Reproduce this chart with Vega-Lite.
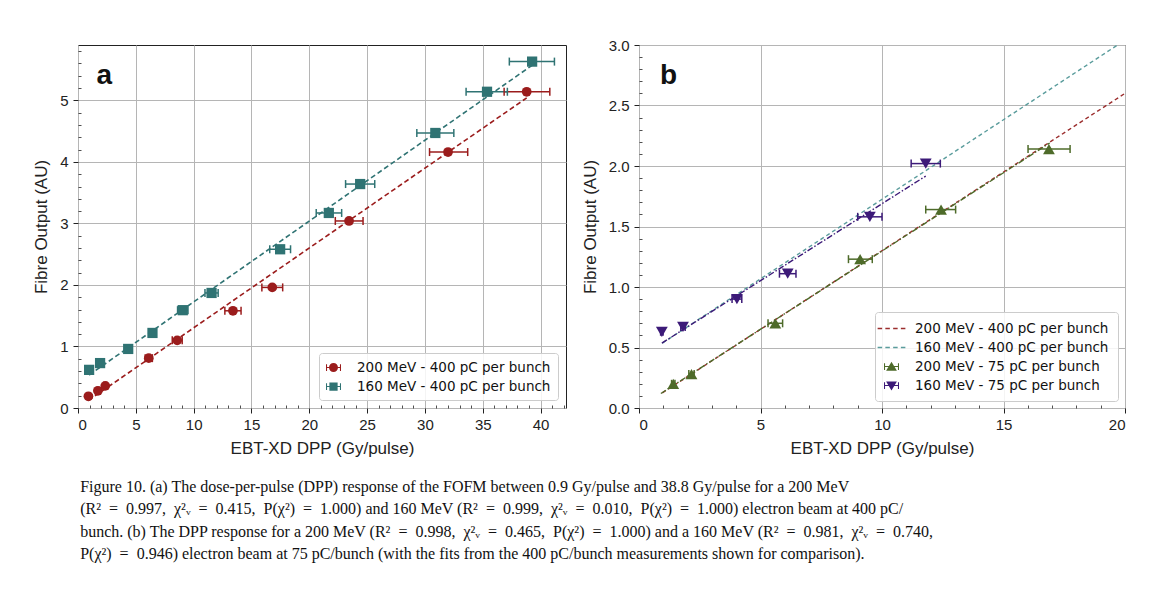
{
  "$schema": "https://vega.github.io/schema/vega-lite/v6.json",
  "background": "white",
  "padding": {"left": 32, "top": 37, "right": 5, "bottom": 5},
  "spacing": 13,
  "resolve": {"scale": {"color": "independent", "shape": "independent", "strokeDash": "independent"}, "legend": {"color": "independent", "shape": "independent"}},
  "title": {
    "text": [
      "Figure 10. (a) The dose-per-pulse (DPP) response of the FOFM between 0.9 Gy/pulse and 38.8 Gy/pulse for a 200 MeV",
      "(R²\u2002=\u20020.997,\u2002χ²ᵥ\u2002=\u20020.415,\u2002P(χ²)\u2002=\u20021.000) and 160 MeV (R²\u2002=\u20020.999,\u2002χ²ᵥ\u2002=\u20020.010,\u2002P(χ²)\u2002=\u20021.000) electron beam at 400 pC/",
      "bunch. (b) The DPP response for a 200 MeV (R²\u2002=\u20020.998,\u2002χ²ᵥ\u2002=\u20020.465,\u2002P(χ²)\u2002=\u20021.000) and a 160 MeV (R²\u2002=\u20020.981,\u2002χ²ᵥ\u2002=\u20020.740,",
      "P(χ²)\u2002=\u20020.946) electron beam at 75 pC/bunch (with the fits from the 400 pC/bunch measurements shown for comparison)."
    ],
    "orient": "bottom",
    "anchor": "start",
    "frame": "bounds",
    "dx": 48,
    "offset": 22,
    "font": "Liberation Serif",
    "fontSize": 16,
    "fontWeight": "normal",
    "lineHeight": 22.5,
    "color": "#111111"
  },
  "datasets": {
    "pa": [
      {"series": "200 MeV - 400 pC per bunch", "x": 0.9, "y": 0.19, "xlo": 0.85, "xhi": 0.95},
      {"series": "200 MeV - 400 pC per bunch", "x": 1.72, "y": 0.28, "xlo": 1.63, "xhi": 1.81},
      {"series": "200 MeV - 400 pC per bunch", "x": 2.36, "y": 0.36, "xlo": 2.24, "xhi": 2.48},
      {"series": "200 MeV - 400 pC per bunch", "x": 6.12, "y": 0.81, "xlo": 5.81, "xhi": 6.43},
      {"series": "200 MeV - 400 pC per bunch", "x": 8.58, "y": 1.1, "xlo": 8.15, "xhi": 9.01},
      {"series": "200 MeV - 400 pC per bunch", "x": 13.4, "y": 1.58, "xlo": 12.7, "xhi": 14.1},
      {"series": "200 MeV - 400 pC per bunch", "x": 16.8, "y": 1.96, "xlo": 15.9, "xhi": 17.7},
      {"series": "200 MeV - 400 pC per bunch", "x": 23.44, "y": 3.04, "xlo": 22.25, "xhi": 24.65},
      {"series": "200 MeV - 400 pC per bunch", "x": 32.0, "y": 4.16, "xlo": 30.4, "xhi": 33.7},
      {"series": "200 MeV - 400 pC per bunch", "x": 38.8, "y": 5.14, "xlo": 36.85, "xhi": 40.8},
      {"series": "160 MeV - 400 pC per bunch", "x": 0.96, "y": 0.62, "xlo": 0.91, "xhi": 1.01},
      {"series": "160 MeV - 400 pC per bunch", "x": 1.91, "y": 0.73, "xlo": 1.81, "xhi": 2.01},
      {"series": "160 MeV - 400 pC per bunch", "x": 4.34, "y": 0.96, "xlo": 4.12, "xhi": 4.56},
      {"series": "160 MeV - 400 pC per bunch", "x": 6.44, "y": 1.22, "xlo": 6.12, "xhi": 6.76},
      {"series": "160 MeV - 400 pC per bunch", "x": 9.06, "y": 1.59, "xlo": 8.61, "xhi": 9.51},
      {"series": "160 MeV - 400 pC per bunch", "x": 11.55, "y": 1.87, "xlo": 10.98, "xhi": 12.12},
      {"series": "160 MeV - 400 pC per bunch", "x": 17.48, "y": 2.58, "xlo": 16.58, "xhi": 18.38},
      {"series": "160 MeV - 400 pC per bunch", "x": 21.69, "y": 3.17, "xlo": 20.6, "xhi": 22.8},
      {"series": "160 MeV - 400 pC per bunch", "x": 24.4, "y": 3.64, "xlo": 23.14, "xhi": 25.66},
      {"series": "160 MeV - 400 pC per bunch", "x": 30.9, "y": 4.47, "xlo": 29.3, "xhi": 32.5},
      {"series": "160 MeV - 400 pC per bunch", "x": 35.37, "y": 5.14, "xlo": 33.56, "xhi": 37.13},
      {"series": "160 MeV - 400 pC per bunch", "x": 39.27, "y": 5.63, "xlo": 37.3, "xhi": 41.2}
    ],
    "fa": [
      {"series": "200 MeV - 400 pC per bunch", "x": 0.9, "y": 0.122},
      {"series": "200 MeV - 400 pC per bunch", "x": 38.8, "y": 5.04},
      {"series": "160 MeV - 400 pC per bunch", "x": 0.96, "y": 0.536},
      {"series": "160 MeV - 400 pC per bunch", "x": 39.27, "y": 5.57}
    ],
    "pb": [
      {"series": "200 MeV - 75 pC per bunch", "x": 1.41, "y": 0.2, "xlo": 1.34, "xhi": 1.48},
      {"series": "200 MeV - 75 pC per bunch", "x": 2.16, "y": 0.28, "xlo": 2.05, "xhi": 2.27},
      {"series": "200 MeV - 75 pC per bunch", "x": 5.61, "y": 0.7, "xlo": 5.31, "xhi": 5.91},
      {"series": "200 MeV - 75 pC per bunch", "x": 9.1, "y": 1.23, "xlo": 8.62, "xhi": 9.6},
      {"series": "200 MeV - 75 pC per bunch", "x": 12.43, "y": 1.64, "xlo": 11.8, "xhi": 13.03},
      {"series": "200 MeV - 75 pC per bunch", "x": 16.87, "y": 2.14, "xlo": 16.01, "xhi": 17.74},
      {"series": "160 MeV - 75 pC per bunch", "x": 0.94, "y": 0.63, "xlo": 0.89, "xhi": 0.99},
      {"series": "160 MeV - 75 pC per bunch", "x": 1.81, "y": 0.67, "xlo": 1.72, "xhi": 1.9},
      {"series": "160 MeV - 75 pC per bunch", "x": 4.03, "y": 0.9, "xlo": 3.83, "xhi": 4.23},
      {"series": "160 MeV - 75 pC per bunch", "x": 6.12, "y": 1.11, "xlo": 5.78, "xhi": 6.46},
      {"series": "160 MeV - 75 pC per bunch", "x": 9.5, "y": 1.58, "xlo": 9.0, "xhi": 10.0},
      {"series": "160 MeV - 75 pC per bunch", "x": 11.8, "y": 2.02, "xlo": 11.2, "xhi": 12.4}
    ],
    "fb": [
      {"series": "200 MeV - 400 pC per bunch", "style": "dashed", "x": 0.96, "y": 0.125},
      {"series": "200 MeV - 400 pC per bunch", "style": "dashed", "x": 20, "y": 2.6},
      {"series": "160 MeV - 400 pC per bunch", "style": "dashed", "x": 0.96, "y": 0.536},
      {"series": "160 MeV - 400 pC per bunch", "style": "dashed", "x": 20, "y": 3.04},
      {"series": "200 MeV - 75 pC per bunch", "style": "dashdot", "x": 0.9, "y": 0.12},
      {"series": "200 MeV - 75 pC per bunch", "style": "dashdot", "x": 16.9, "y": 2.19},
      {"series": "160 MeV - 75 pC per bunch", "style": "dashdot", "x": 0.94, "y": 0.536},
      {"series": "160 MeV - 75 pC per bunch", "style": "dashdot", "x": 11.8, "y": 1.917}
    ]
  },
  "hconcat": [
    {
      "width": 488,
      "height": 363,
      "resolve": {"axis": {"x": "independent", "y": "independent"}},
      "layer": [
        {
          "data": {"name": "pa"},
          "transform": [{"filter": "false"}],
          "mark": {"type": "point", "filled": true, "opacity": 1},
          "encoding": {
            "x": {"field": "x", "type": "quantitative", "axis": null},
            "y": {"field": "y", "type": "quantitative", "axis": null},
            "color": {"field": "series", "type": "nominal",
                      "scale": {"domain": ["200 MeV - 400 pC per bunch", "160 MeV - 400 pC per bunch"], "range": ["#9b1c1c", "#2f7373"]},
                      "legend": {"title": null, "orient": "bottom-right", "offset": 8, "strokeColor": "#cccccc", "fillColor": "rgba(255,255,255,0.85)", "cornerRadius": 3, "padding": 7, "rowPadding": 5, "symbolSize": 225, "symbolStrokeWidth": 0, "labelFont": "DejaVu Sans", "labelFontSize": 13.5, "labelColor": "#111111", "labelOffset": 16, "labelLimit": 400}},
            "shape": {"field": "series", "type": "nominal",
                      "scale": {"domain": ["200 MeV - 400 pC per bunch", "160 MeV - 400 pC per bunch"],
                                "range": ["M-0.6,0A0.6,0.6,0,1,1,0.6,0A0.6,0.6,0,1,1,-0.6,0Z M-1,-0.07H1V0.07H-1Z M-1,-0.45H-0.86V0.45H-1Z M0.86,-0.45H1V0.45H0.86Z",
                                          "M-0.55,-0.55H0.55V0.55H-0.55Z M-1,-0.07H1V0.07H-1Z M-1,-0.45H-0.86V0.45H-1Z M0.86,-0.45H1V0.45H0.86Z"]},
                      "legend": {"title": null, "orient": "bottom-right", "offset": 8, "strokeColor": "#cccccc", "fillColor": "rgba(255,255,255,0.85)", "cornerRadius": 3, "padding": 7, "rowPadding": 5, "symbolSize": 225, "symbolStrokeWidth": 0, "labelFont": "DejaVu Sans", "labelFontSize": 13.5, "labelColor": "#111111", "labelOffset": 16, "labelLimit": 400}}
          }
        },
        {
          "data": {"name": "fa"},
          "mark": {"type": "line", "strokeDash": [5, 3], "strokeWidth": 1.6, "clip": true},
          "encoding": {
            "x": {"field": "x", "type": "quantitative", "scale": {"domain": [0, 42.2], "nice": false, "zero": false},
                  "axis": {"title": "EBT-XD DPP (Gy/pulse)", "values": [0, 5, 10, 15, 20, 25, 30, 35, 40], "format": "d", "grid": true, "labelPadding": 4, "titlePadding": 8}},
            "y": {"field": "y", "type": "quantitative", "scale": {"domain": [0, 5.9], "nice": false, "zero": false},
                  "axis": {"title": "Fibre Output (AU)", "values": [0, 1, 2, 3, 4, 5], "format": "d", "grid": true, "labelPadding": 5, "titlePadding": 9}},
            "color": {"field": "series", "type": "nominal", "legend": null}
          }
        },
        {
          "data": {"name": "pa"},
          "mark": {"type": "rule", "strokeWidth": 1.5},
          "encoding": {
            "x": {"field": "xlo", "type": "quantitative",
                  "axis": {"orient": "bottom", "title": null, "labels": false, "grid": false, "domain": false, "tickSize": -3, "tickWidth": 0.8,
                           "values": [1, 2, 3, 4, 6, 7, 8, 9, 11, 12, 13, 14, 16, 17, 18, 19, 21, 22, 23, 24, 26, 27, 28, 29, 31, 32, 33, 34, 36, 37, 38, 39, 41, 42]}},
            "x2": {"field": "xhi"},
            "y": {"field": "y", "type": "quantitative",
                  "axis": {"orient": "left", "title": null, "labels": false, "grid": false, "domain": false, "tickSize": -3, "tickWidth": 0.8,
                           "values": [0.2, 0.4, 0.6, 0.8, 1.2, 1.4, 1.6, 1.8, 2.2, 2.4, 2.6, 2.8, 3.2, 3.4, 3.6, 3.8, 4.2, 4.4, 4.6, 4.8, 5.2, 5.4, 5.6, 5.8]}},
            "color": {"field": "series", "type": "nominal", "legend": null}
          }
        },
        {
          "data": {"name": "pa"},
          "mark": {"type": "tick", "orient": "vertical", "size": 8, "thickness": 1.5, "opacity": 1},
          "encoding": {
            "x": {"field": "xlo", "type": "quantitative", "axis": null},
            "y": {"field": "y", "type": "quantitative", "axis": null},
            "color": {"field": "series", "type": "nominal", "legend": null}
          }
        },
        {
          "data": {"name": "pa"},
          "mark": {"type": "tick", "orient": "vertical", "size": 8, "thickness": 1.5, "opacity": 1},
          "encoding": {
            "x": {"field": "xhi", "type": "quantitative", "axis": null},
            "y": {"field": "y", "type": "quantitative", "axis": null},
            "color": {"field": "series", "type": "nominal", "legend": null}
          }
        },
        {
          "data": {"name": "pa"},
          "transform": [{"filter": "datum.series === '200 MeV - 400 pC per bunch'"}],
          "mark": {"type": "point", "filled": true, "shape": "circle", "size": 95, "opacity": 1},
          "encoding": {
            "x": {"field": "x", "type": "quantitative", "axis": null},
            "y": {"field": "y", "type": "quantitative", "axis": null},
            "color": {"field": "series", "type": "nominal", "legend": null}
          }
        },
        {
          "data": {"name": "pa"},
          "transform": [{"filter": "datum.series === '160 MeV - 400 pC per bunch'"}],
          "mark": {"type": "point", "filled": true, "shape": "square", "size": 105, "opacity": 1},
          "encoding": {
            "x": {"field": "x", "type": "quantitative", "axis": null},
            "y": {"field": "y", "type": "quantitative", "axis": null},
            "color": {"field": "series", "type": "nominal", "legend": null}
          }
        },
        {
          "data": {"values": [{"panel": "a"}]},
          "mark": {"type": "text", "align": "left", "baseline": "alphabetic", "font": "Liberation Sans", "fontSize": 28, "fontWeight": "bold", "color": "#111111"},
          "encoding": {
            "x": {"datum": 1.6, "type": "quantitative", "axis": null},
            "y": {"datum": 5.27, "type": "quantitative", "axis": null},
            "text": {"field": "panel"}
          }
        }
      ]
    },
    {
      "width": 486,
      "height": 363,
      "resolve": {"axis": {"x": "independent", "y": "independent"}},
      "layer": [
        {
          "data": {"name": "pb"},
          "transform": [{"filter": "false"}],
          "mark": {"type": "point", "filled": true, "opacity": 1},
          "encoding": {
            "x": {"field": "x", "type": "quantitative", "axis": null},
            "y": {"field": "y", "type": "quantitative", "axis": null},
            "color": {"field": "series", "type": "nominal",
                      "scale": {"domain": ["200 MeV - 400 pC per bunch", "160 MeV - 400 pC per bunch", "200 MeV - 75 pC per bunch", "160 MeV - 75 pC per bunch"],
                                "range": ["#9b2d2d", "#5a9c9c", "#4e6b2a", "#3c1a78"]},
                      "legend": {"title": null, "orient": "bottom-right", "offset": 7, "strokeColor": "#cccccc", "fillColor": "rgba(255,255,255,0.85)", "cornerRadius": 3, "padding": 9, "rowPadding": 5, "symbolSize": 225, "symbolStrokeWidth": 0, "labelFont": "DejaVu Sans", "labelFontSize": 13.5, "labelColor": "#111111", "labelOffset": 16, "labelLimit": 400}},
            "shape": {"field": "series", "type": "nominal",
                      "scale": {"domain": ["200 MeV - 400 pC per bunch", "160 MeV - 400 pC per bunch", "200 MeV - 75 pC per bunch", "160 MeV - 75 pC per bunch"],
                                "range": ["M-1.85,-0.09H-1.25V0.09H-1.85Z M-0.82,-0.09H-0.22V0.09H-0.82Z M0.22,-0.09H0.82V0.09H0.22Z M1.25,-0.09H1.85V0.09H1.25Z",
                                          "M-1.85,-0.09H-1.25V0.09H-1.85Z M-0.82,-0.09H-0.22V0.09H-0.82Z M0.22,-0.09H0.82V0.09H0.22Z M1.25,-0.09H1.85V0.09H1.25Z",
                                          "M0,-0.65L0.72,0.55H-0.72Z M-1,-0.07H1V0.07H-1Z M-1,-0.45H-0.86V0.45H-1Z M0.86,-0.45H1V0.45H0.86Z",
                                          "M-0.72,-0.55H0.72L0,0.65Z M-1,-0.07H1V0.07H-1Z M-1,-0.45H-0.86V0.45H-1Z M0.86,-0.45H1V0.45H0.86Z"]},
                      "legend": {"title": null, "orient": "bottom-right", "offset": 7, "strokeColor": "#cccccc", "fillColor": "rgba(255,255,255,0.85)", "cornerRadius": 3, "padding": 9, "rowPadding": 5, "symbolSize": 225, "symbolStrokeWidth": 0, "labelFont": "DejaVu Sans", "labelFontSize": 13.5, "labelColor": "#111111", "labelOffset": 16, "labelLimit": 400}}
          }
        },
        {
          "data": {"name": "fb"},
          "mark": {"type": "line", "strokeWidth": 1.4, "clip": true},
          "encoding": {
            "x": {"field": "x", "type": "quantitative", "scale": {"domain": [0, 20], "nice": false, "zero": false},
                  "axis": {"title": "EBT-XD DPP (Gy/pulse)", "values": [0, 5, 10, 15, 20], "format": "d", "grid": true, "labelPadding": 4, "titlePadding": 8}},
            "y": {"field": "y", "type": "quantitative", "scale": {"domain": [0, 3], "nice": false, "zero": false},
                  "axis": {"title": "Fibre Output (AU)", "values": [0, 0.5, 1, 1.5, 2, 2.5, 3], "format": ".1f", "grid": true, "labelPadding": 5, "titlePadding": 9}},
            "color": {"field": "series", "type": "nominal", "legend": null},
            "strokeDash": {"field": "style", "type": "nominal", "scale": {"domain": ["dashed", "dashdot"], "range": [[4, 3], [6, 2, 1.5, 2]]}, "legend": null},
            "detail": {"field": "series"}
          }
        },
        {
          "data": {"name": "pb"},
          "mark": {"type": "rule", "strokeWidth": 1.5},
          "encoding": {
            "x": {"field": "xlo", "type": "quantitative",
                  "axis": {"orient": "bottom", "title": null, "labels": false, "grid": false, "domain": false, "tickSize": -3, "tickWidth": 0.8,
                           "values": [1, 2, 3, 4, 6, 7, 8, 9, 11, 12, 13, 14, 16, 17, 18, 19]}},
            "x2": {"field": "xhi"},
            "y": {"field": "y", "type": "quantitative",
                  "axis": {"orient": "left", "title": null, "labels": false, "grid": false, "domain": false, "tickSize": -3, "tickWidth": 0.8,
                           "values": [0.1, 0.2, 0.3, 0.4, 0.6, 0.7, 0.8, 0.9, 1.1, 1.2, 1.3, 1.4, 1.6, 1.7, 1.8, 1.9, 2.1, 2.2, 2.3, 2.4, 2.6, 2.7, 2.8, 2.9]}},
            "color": {"field": "series", "type": "nominal", "legend": null}
          }
        },
        {
          "data": {"name": "pb"},
          "mark": {"type": "tick", "orient": "vertical", "size": 8, "thickness": 1.5, "opacity": 1},
          "encoding": {
            "x": {"field": "xlo", "type": "quantitative", "axis": null},
            "y": {"field": "y", "type": "quantitative", "axis": null},
            "color": {"field": "series", "type": "nominal", "legend": null}
          }
        },
        {
          "data": {"name": "pb"},
          "mark": {"type": "tick", "orient": "vertical", "size": 8, "thickness": 1.5, "opacity": 1},
          "encoding": {
            "x": {"field": "xhi", "type": "quantitative", "axis": null},
            "y": {"field": "y", "type": "quantitative", "axis": null},
            "color": {"field": "series", "type": "nominal", "legend": null}
          }
        },
        {
          "data": {"name": "pb"},
          "transform": [{"filter": "datum.series === '200 MeV - 75 pC per bunch'"}],
          "mark": {"type": "point", "filled": true, "shape": "triangle-up", "size": 140, "opacity": 1},
          "encoding": {
            "x": {"field": "x", "type": "quantitative", "axis": null},
            "y": {"field": "y", "type": "quantitative", "axis": null},
            "color": {"field": "series", "type": "nominal", "legend": null}
          }
        },
        {
          "data": {"name": "pb"},
          "transform": [{"filter": "datum.series === '160 MeV - 75 pC per bunch'"}],
          "mark": {"type": "point", "filled": true, "shape": "triangle-down", "size": 140, "opacity": 1},
          "encoding": {
            "x": {"field": "x", "type": "quantitative", "axis": null},
            "y": {"field": "y", "type": "quantitative", "axis": null},
            "color": {"field": "series", "type": "nominal", "legend": null}
          }
        },
        {
          "data": {"values": [{"panel": "b"}]},
          "mark": {"type": "text", "align": "left", "baseline": "alphabetic", "font": "Liberation Sans", "fontSize": 28, "fontWeight": "bold", "color": "#111111"},
          "encoding": {
            "x": {"datum": 0.86, "type": "quantitative", "axis": null},
            "y": {"datum": 2.68, "type": "quantitative", "axis": null},
            "text": {"field": "panel"}
          }
        }
      ]
    }
  ],
  "config": {
    "view": {"stroke": "#222222", "strokeWidth": 1},
    "axis": {
      "labelFont": "Liberation Sans", "labelFontSize": 15, "labelColor": "#222222",
      "titleFont": "Liberation Sans", "titleFontSize": 17, "titleFontWeight": "normal", "titleColor": "#222222",
      "tickColor": "#222222", "tickSize": 5, "tickWidth": 1, "domain": false,
      "gridColor": "#b5b5b5", "gridWidth": 1
    }
  }
}
